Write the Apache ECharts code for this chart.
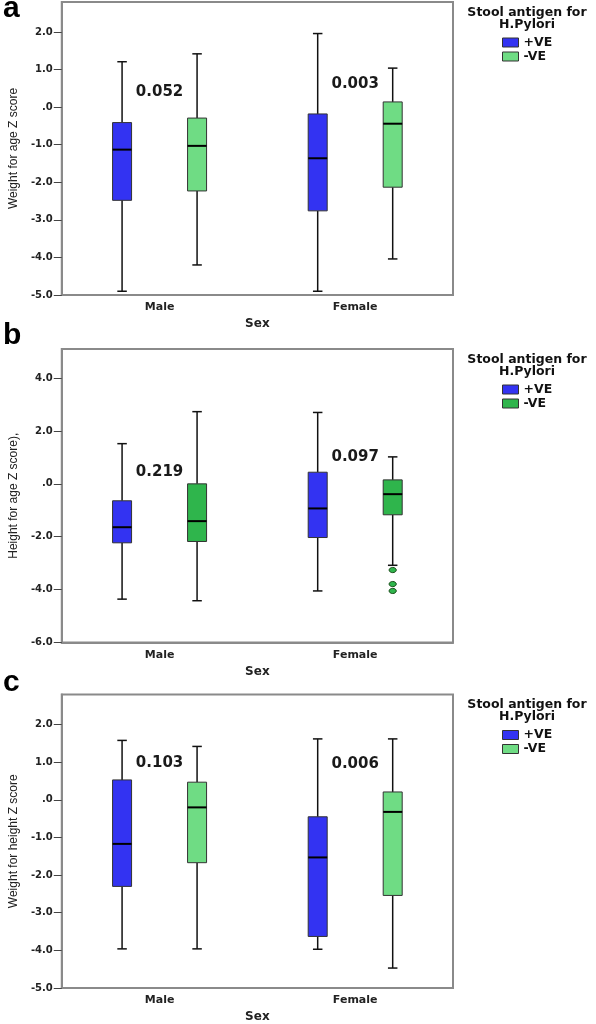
<!DOCTYPE html>
<html>
<head>
<meta charset="utf-8">
<script src="https://cdn.jsdelivr.net/npm/echarts@6/dist/echarts.min.js"></script>
<style>
html,body{margin:0;padding:0;background:#fff;}
#chart{width:596px;height:1024px;}
</style>
</head>
<body>
<div id="chart"></div>
<script>
// ---------- data ----------
const categories = ['Male', 'Female'];
const groupNames = ['+VE', '-VE'];
const legendTitle = 'Stool antigen for\nH.Pylori';
const xAxisName = 'Sex';

// each row: [min, Q1, median, Q3, max] per category (Male, Female)
const wfaPositive = [[-4.90, -2.48, -1.13, -0.41, 1.21], [-4.90, -2.76, -1.36, -0.18, 1.96]];
const wfaNegative = [[-4.20, -2.23, -1.03, -0.29, 1.42], [-4.04, -2.13, -0.44, 0.14, 1.04]];
const hfaPositive = [[-4.36, -2.23, -1.64, -0.64, 1.52], [-4.05, -2.03, -0.93, 0.44, 2.70]];
const hfaNegative = [[-4.42, -2.18, -1.41, 0.00, 2.73], [-3.08, -1.17, -0.39, 0.15, 1.02]];
const hfaNegativeOutliers = [[1, -3.26], [1, -3.79], [1, -4.05]]; // [category index, value]
const wfhPositive = [[-3.96, -2.30, -1.17, 0.53, 1.58], [-3.97, -3.63, -1.53, -0.45, 1.62]];
const wfhNegative = [[-3.96, -1.67, -0.20, 0.47, 1.42], [-4.47, -2.54, -0.32, 0.21, 1.62]];

const pValuesA = ['0.052', '0.003'];
const pValuesB = ['0.219', '0.097'];
const pValuesC = ['0.103', '0.006'];
// value at which each p-value annotation is centred (per category)
const pAnchorA = [0.41, 0.62];
const pAnchorB = [0.45, 1.00];
const pAnchorC = [0.97, 0.96];

const yTicksA = [-5, -4, -3, -2, -1, 0, 1, 2];
const yTicksB = [-6, -4, -2, 0, 2, 4];
const yTicksC = [-5, -4, -3, -2, -1, 0, 1, 2];

const yNames = ['Weight for age Z score', 'Height for age Z score),', 'Weight for height Z score'];
const panelLetters = ['a', 'b', 'c'];

// ---------- styles ----------
const BLUE = '#3333f2';
const LIGHT_GREEN = '#6fdc84';
const DARK_GREEN = '#2fb54c';
const FRAME = '#8a8a8a';
const BOX_W = 19;
const CAP_W = 9.5;
const OFFSET = 37.5;
const BOLD_FONT = 'DejaVu Sans';

const panels = [
  {top: 2, height: 293, min: -5, max: 2.8, interval: 1, ticks: yTicksA, pos: wfaPositive, neg: wfaNegative,
   negColor: LIGHT_GREEN, outliers: [], pv: pValuesA, pAnchor: pAnchorA},
  {top: 349, height: 293.5, min: -6, max: 5.1, interval: 2, ticks: yTicksB, pos: hfaPositive, neg: hfaNegative,
   negColor: DARK_GREEN, outliers: hfaNegativeOutliers, pv: pValuesB, pAnchor: pAnchorB},
  {top: 694.5, height: 294.2, min: -5, max: 2.8, interval: 1, ticks: yTicksC, pos: wfhPositive, neg: wfhNegative,
   negColor: LIGHT_GREEN, outliers: [], pv: pValuesC, pAnchor: pAnchorC}
];

function boxRenderer(offset, fill) {
  return function (params, api) {
    const c = api.value(0);
    const pMin = api.coord([c, api.value(1)]);
    const pQ1 = api.coord([c, api.value(2)]);
    const pMed = api.coord([c, api.value(3)]);
    const pQ3 = api.coord([c, api.value(4)]);
    const pMax = api.coord([c, api.value(5)]);
    const x = pMin[0] + offset;
    const hw = BOX_W / 2, cw = CAP_W / 2;
    const wStyle = {stroke: '#111', lineWidth: 1.5};
    return {
      type: 'group',
      children: [
        {type: 'line', shape: {x1: x, y1: pMax[1], x2: x, y2: pQ3[1]}, style: wStyle},
        {type: 'line', shape: {x1: x, y1: pQ1[1], x2: x, y2: pMin[1]}, style: wStyle},
        {type: 'line', shape: {x1: x - cw, y1: pMax[1], x2: x + cw, y2: pMax[1]}, style: wStyle},
        {type: 'line', shape: {x1: x - cw, y1: pMin[1], x2: x + cw, y2: pMin[1]}, style: wStyle},
        {type: 'rect', shape: {x: x - hw, y: pQ3[1], width: BOX_W, height: pQ1[1] - pQ3[1]},
         style: {fill: fill, stroke: '#333', lineWidth: 1}},
        {type: 'line', shape: {x1: x - hw, y1: pMed[1], x2: x + hw, y2: pMed[1]},
         style: {stroke: '#000', lineWidth: 2}}
      ]
    };
  };
}

function outlierRenderer(offset, fill) {
  return function (params, api) {
    const p = api.coord([api.value(0), api.value(1)]);
    return {type: 'ellipse', shape: {cx: p[0] + offset, cy: p[1], rx: 3.6, ry: 2.6},
            style: {fill: fill, stroke: '#1a4d1a', lineWidth: 1}};
  };
}

function pLabelRenderer(texts) {
  return function (params, api) {
    const p = api.coord([api.value(0), api.value(1)]);
    return {type: 'text', x: p[0], y: p[1],
            style: {text: texts[params.dataIndex], align: 'center', verticalAlign: 'middle',
                    font: 'bold 15px "' + BOLD_FONT + '"', fill: '#1a1a1a'}};
  };
}

const grid = [], xAxis = [], yAxis = [], series = [], legend = [], graphic = [];

panels.forEach((pn, i) => {
  grid.push({left: 57, width: 396, top: pn.top, height: pn.height, show: true,
             borderColor: FRAME, borderWidth: 2, backgroundColor: 'transparent'});
  xAxis.push({
    type: 'category', gridIndex: i, data: categories,
    axisLine: {onZero: false, lineStyle: {color: FRAME, width: 2}},
    axisTick: {alignWithLabel: true, length: 5, lineStyle: {color: '#333', width: 1}},
    axisLabel: {margin: 7, fontSize: 11, fontWeight: 'bold', fontFamily: BOLD_FONT, color: '#222'},
    splitLine: {show: false},
    name: xAxisName, nameLocation: 'middle', nameGap: 23,
    nameTextStyle: {fontSize: 12, fontWeight: 'bold', fontFamily: BOLD_FONT, color: '#222'}
  });
  yAxis.push({
    type: 'value', gridIndex: i, min: pn.min, max: pn.max, interval: pn.interval,
    axisLine: {show: true, onZero: false, lineStyle: {color: FRAME, width: 2}},
    axisTick: {show: true, length: 8, customValues: pn.ticks, lineStyle: {color: '#444', width: 1}},
    axisLabel: {margin: 9, fontSize: 10, fontWeight: 'bold', fontFamily: BOLD_FONT, color: '#222',
                customValues: pn.ticks,
                formatter: v => (v === 0 ? '.0' : v.toFixed(1))},
    splitLine: {show: false},
    name: yNames[i], nameLocation: 'middle', nameGap: 41,
    nameTextStyle: {fontSize: 12, fontFamily: 'Liberation Sans', color: '#222'}
  });
  const enc = {x: 0, y: [1, 2, 3, 4, 5]};
  series.push({
    type: 'custom', name: groupNames[0], xAxisIndex: i, yAxisIndex: i,
    itemStyle: {color: BLUE}, encode: enc, renderItem: boxRenderer(-OFFSET, BLUE),
    data: pn.pos.map((d, k) => [k].concat(d)), silent: true
  });
  series.push({
    type: 'custom', name: groupNames[1], xAxisIndex: i, yAxisIndex: i,
    itemStyle: {color: pn.negColor}, encode: enc, renderItem: boxRenderer(OFFSET, pn.negColor),
    data: pn.neg.map((d, k) => [k].concat(d)), silent: true
  });
  if (pn.outliers.length) {
    series.push({
      type: 'custom', name: groupNames[1], xAxisIndex: i, yAxisIndex: i,
      itemStyle: {color: pn.negColor}, encode: {x: 0, y: 1},
      renderItem: outlierRenderer(OFFSET, pn.negColor), data: pn.outliers, silent: true
    });
  }
  series.push({
    type: 'custom', name: 'p', xAxisIndex: i, yAxisIndex: i, encode: {x: 0, y: 1},
    renderItem: pLabelRenderer(pn.pv), data: pn.pAnchor.map((v, k) => [k, v]), silent: true
  });
  legend.push({
    orient: 'vertical', left: 502, top: pn.top + 34, padding: 0, itemGap: 1,
    itemWidth: 16, itemHeight: 9, icon: 'rect', selectedMode: false,
    textStyle: {fontSize: 12.5, fontWeight: 'bold', fontFamily: BOLD_FONT, color: '#111', lineHeight: 12},
    data: [
      {name: groupNames[0], itemStyle: {color: BLUE, borderColor: '#333', borderWidth: 1}},
      {name: groupNames[1], itemStyle: {color: pn.negColor, borderColor: '#333', borderWidth: 1}}
    ]
  });
  graphic.push({
    type: 'text', x: 527, y: pn.top + 4.5,
    style: {text: legendTitle, align: 'center', verticalAlign: 'top', lineHeight: 12,
            font: 'bold 12.5px "' + BOLD_FONT + '"', fill: '#111'}
  });
});

// panel letters
const letterBaselines = [18, 345, 692.5];
panelLetters.forEach((l, i) => {
  graphic.push({
    type: 'text', x: 3, y: letterBaselines[i] - 9.6,
    style: {text: l, align: 'left', verticalAlign: 'middle', font: 'bold 30px "Liberation Sans"', fill: '#000'}
  });
});

const chart = echarts.init(document.getElementById('chart'), null, {renderer: 'canvas'});
chart.setOption({
  animation: false,
  backgroundColor: '#fff',
  grid, xAxis, yAxis, series, legend, graphic
});
</script>
</body>
</html>
